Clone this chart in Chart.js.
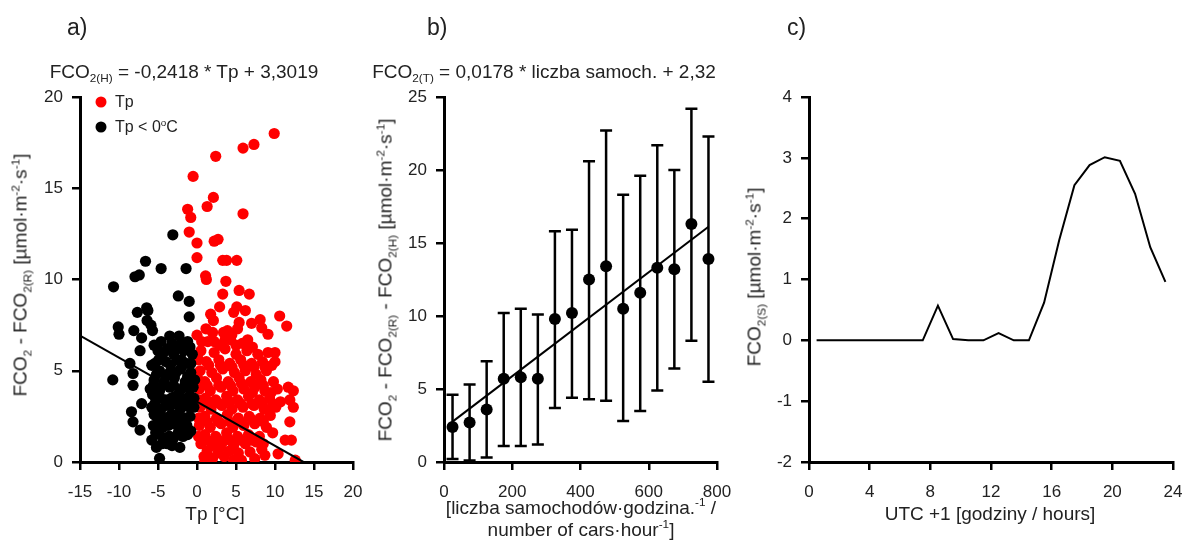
<!DOCTYPE html>
<html>
<head>
<meta charset="utf-8">
<script src="https://cdn.jsdelivr.net/npm/chart.js@4/dist/chart.umd.min.js"></script>
<style>
  body { margin: 0; background: #fff; font-family: "Liberation Sans", Arial, sans-serif; color: #222; }
  #wrap { position: relative; width: 1184px; height: 543px; overflow: hidden; }
  canvas { position: absolute; top: 0; }
  .lbl { position: absolute; white-space: nowrap; font-size: 19px; line-height: 1; }
  .ctr { transform: translate(-50%, -50%); }
  .panel { font-size: 23px; }
  .ytitle { position: absolute; white-space: nowrap; font-size: 19px; line-height: 1; transform: translate(-50%, -50%) rotate(-90deg); }
  sub, sup { font-size: 62%; line-height: 0; }
  .dot { position: absolute; width: 11px; height: 11px; border-radius: 50%; transform: translate(-50%, -50%); }
</style>
</head>
<body>
<div id="wrap">
  <canvas id="chartA" width="380" height="543" style="left:0"></canvas>
  <canvas id="chartB" width="376" height="543" style="left:372px"></canvas>
  <canvas id="chartC" width="450" height="543" style="left:748px"></canvas>

  <div class="lbl panel" style="left:67px;top:16px">a)</div>
  <div class="lbl panel" style="left:427px;top:16px">b)</div>
  <div class="lbl panel" style="left:787px;top:16px">c)</div>

  <div class="lbl ctr" style="left:184px;top:71px">FCO<sub>2(H)</sub> = -0,2418 * Tp + 3,3019</div>
  <div class="lbl ctr" style="left:544px;top:71px">FCO<sub>2(T)</sub> = 0,0178 * liczba samoch. + 2,32</div>

  <div class="dot" style="left:101px;top:102px;background:#f00"></div>
  <div class="lbl" style="left:115px;top:94px;font-size:16px">Tp</div>
  <div class="dot" style="left:101px;top:127px;background:#000"></div>
  <div class="lbl" style="left:115px;top:119px;font-size:16px">Tp &lt; 0<sup>o</sup>C</div>

  <div class="ytitle" style="left:20px;top:275px">FCO<sub>2</sub> - FCO<sub>2(R)</sub> [µmol·m<sup>-2</sup>·s<sup>-1</sup>]</div>
  <div class="ytitle" style="left:385px;top:280px">FCO<sub>2</sub> - FCO<sub>2(R)</sub> - FCO<sub>2(H)</sub> [µmol·m<sup>-2</sup>·s<sup>-1</sup>]</div>
  <div class="ytitle" style="left:754px;top:277px">FCO<sub>2(S)</sub> [µmol·m<sup>-2</sup>·s<sup>-1</sup>]</div>

  <div class="lbl ctr" style="left:215px;top:513px">Tp [°C]</div>
  <div class="lbl ctr" style="left:581px;top:507px">[liczba samochodów·godzina.<sup>-1</sup> /</div>
  <div class="lbl ctr" style="left:581px;top:529px">number of cars·hour<sup>-1</sup>]</div>
  <div class="lbl ctr" style="left:990px;top:513px">UTC +1 [godziny / hours]</div>
</div>

<script>
// --- a) Tp vs flux, [Tp, flux]
const tpPoints = [
  [9.9,18.0],[7.3,17.4],[5.9,17.2],[2.4,16.75],[-0.5,15.65],[2.1,14.5],[1.3,14.0],[-1.2,13.85],
  [-0.8,13.4],[5.9,13.6],[-1.0,12.6],[0.0,12.0],[2.2,12.1],[2.7,12.2],[0.0,11.2],[3.3,11.05],
  [3.8,11.05],[5.1,11.05],[1.1,10.2],[1.2,10.0],[3.7,9.9],[5.4,9.4],[6.7,9.2],[3.3,9.2],
  [2.9,8.5],[5.1,8.5],[4.7,8.2],[6.2,8.3],[1.75,8.1],[2.1,7.75],[5.4,7.65],[7.0,7.6],
  [8.1,7.8],[8.3,7.35],[10.6,8.0],[11.5,7.45],[9.1,7.0],[1.15,7.3],[0.0,6.95],[0.6,6.6],
  [3.4,7.1],[4.45,6.95],[10.0,6.0],[10.0,5.5],[2.0,7.1],[3.9,7.2],[5.2,7.3],
  [11.7,4.1],[12.35,3.9],[11.9,3.4],[12.35,3.0],[9.6,3.0],[9.4,2.55],[11.9,2.2],[11.3,1.2],
  [12.1,1.2],[10.4,0.45],[12.6,0.1],[8.7,0.37],[7.4,0.18],[5.7,0.1],[4.7,0.1],[1.0,0.05],
  [1.4,6.6],[2.9,6.4],[4.3,6.7],[5.8,6.5],[7.1,6.3],
  [0.5,6.1],[2.2,6.0],[3.6,6.2],[5.0,5.9],[6.4,6.1],[7.8,5.9],[9.1,6.0],
  [1.2,5.5],[2.8,5.6],[4.2,5.4],[5.6,5.6],[7.0,5.4],[8.4,5.5],[9.6,5.3],
  [0.4,5.0],[1.9,4.9],[3.3,5.1],[4.8,4.9],[6.2,5.0],[7.6,4.8],[8.9,5.0],
  [1.0,4.4],[2.5,4.6],[4.0,4.4],[5.4,4.6],[6.9,4.4],[8.2,4.5],[9.8,4.4],
  [0.3,4.0],[1.7,3.9],[3.1,4.1],[4.6,3.9],[6.0,4.0],[7.4,4.1],[8.7,3.9],[10.3,4.0],
  [1.1,3.5],[2.4,3.4],[3.8,3.6],[5.2,3.4],[6.6,3.6],[8.0,3.4],[9.3,3.5],[10.7,3.3],
  [0.4,3.0],[1.8,2.9],[3.2,3.1],[4.5,2.9],[5.9,3.0],[7.3,3.1],[8.6,2.9],[10.1,3.0],
  [1.0,2.5],[2.5,2.4],[3.9,2.6],[5.3,2.4],[6.7,2.5],[8.1,2.4],
  [0.3,2.0],[1.7,1.9],[3.1,2.1],[4.6,1.9],[6.0,2.0],[7.4,2.1],[8.9,1.9],
  [1.0,1.5],[2.4,1.4],[3.8,1.6],[5.2,1.4],[6.6,1.5],[8.0,1.4],[9.7,1.6],
  [0.5,1.0],[1.9,0.9],[3.3,1.1],[4.7,0.9],[6.2,1.0],[7.6,1.1],
  [1.3,0.6],[2.7,0.5],[4.1,0.6],[6.8,0.55],[8.3,0.7],
  [0.2,5.6],[0.2,4.5],[0.2,3.4],[0.2,2.4],[0.2,1.4],[0.9,0.3],[2.0,0.2],[3.5,0.3],
  [2.2,6.6],[3.6,6.7],[5.0,6.4],[6.5,6.7],
  [1.5,5.3],[3.0,5.3],[4.5,5.2],[6.0,5.3],[7.3,5.2],[8.7,5.2],
  [1.3,4.2],[2.8,4.2],[4.3,4.2],[5.7,4.3],[7.1,3.8],[8.5,4.2],[9.5,3.8],
  [1.4,3.2],[2.9,3.2],[4.2,3.3],[5.6,3.2],[7.0,3.2],[8.3,3.2],[9.7,3.2],
  [1.3,2.2],[2.8,2.2],[4.2,2.2],[5.6,2.2],[7.1,2.3],[8.5,2.2],
  [1.3,1.2],[2.8,1.2],[4.2,1.2],[5.6,1.2],[7.0,1.2],[8.5,1.0],
  [5.3,0.5],[3.0,0.8]
];
const tpBelowZero = [
  [-3.1,12.45],[-6.6,11.0],[-4.6,10.6],[-1.4,10.6],[-7.95,10.15],[-7.4,10.25],[-10.7,9.6],[-2.4,9.1],
  [-1.0,8.8],[-1.0,7.95],[-6.45,8.45],[-6.3,8.3],[-7.65,8.2],[-10.1,7.4],[-10.0,7.0],[-6.4,7.75],
  [-5.9,7.5],[-8.1,7.2],[-5.7,7.2],[-7.1,6.8],[-5.5,6.4],[-7.3,6.1],[-10.8,4.5],[-8.6,5.4],
  [-8.2,4.85],[-8.2,4.2],[-5.8,5.3],[-7.1,3.2],[-8.4,2.75],[-8.2,2.2],[-7.3,1.75],[-5.8,1.2],
  [-5.2,0.8],[-4.8,0.2],[-3.5,1.4],[-2.2,0.8],[-2.3,6.9],
  [-3.2,6.5],[-2.2,6.4],[-1.2,6.6],
  [-4.3,6.0],[-3.0,5.9],[-1.7,6.1],[-0.6,5.9],
  [-5.4,5.4],[-4.0,5.5],[-2.6,5.6],[-1.4,5.4],
  [-4.8,5.0],[-3.5,4.9],[-2.1,5.1],[-0.8,4.9],
  [-5.5,4.5],[-4.2,4.4],[-2.9,4.6],[-1.5,4.4],[-0.3,4.5],
  [-6.0,4.0],[-4.8,3.9],[-3.5,4.1],[-2.2,3.9],[-0.9,4.0],
  [-5.3,3.5],[-4.1,3.4],[-2.8,3.6],[-1.5,3.4],[-0.4,3.5],
  [-5.8,3.0],[-4.6,2.9],[-3.4,3.1],[-2.1,2.9],[-0.9,3.0],
  [-5.2,2.5],[-4.0,2.4],[-2.7,2.6],[-1.4,2.4],
  [-5.6,2.0],[-4.4,1.9],[-3.1,2.1],[-1.9,1.9],
  [-4.8,1.5],[-3.6,1.4],[-2.4,1.6],[-1.2,1.5],
  [-3.8,1.0],
  [-3.8,6.2],[-2.7,6.2],[-1.6,6.4],[-0.9,6.3],
  [-4.9,5.6],[-3.4,5.3],[-2.0,5.6],[-0.8,5.4],
  [-5.2,4.8],[-4.0,4.7],[-2.7,4.9],[-1.2,4.7],
  [-5.6,4.2],[-4.4,4.2],[-3.0,4.2],[-1.7,4.1],[-0.5,4.1],
  [-5.7,3.7],[-4.7,3.5],[-3.3,3.5],[-2.1,3.5],[-1.0,3.6],
  [-5.4,3.2],[-4.0,3.1],[-2.7,3.2],[-1.4,3.1],[-0.4,3.0],
  [-5.5,2.6],[-4.5,2.5],[-3.3,2.6],[-2.0,2.4],[-0.9,2.5],
  [-5.0,2.1],[-3.7,2.0],[-2.5,2.0],[-1.3,2.0],[-0.8,1.7],
  [-5.3,1.6],[-4.2,1.3],[-3.0,1.3],[-1.8,1.4],
  [-4.5,1.0],[-3.2,0.9],[-5.0,6.1],[-4.6,6.6],[-3.5,6.9]
];
const fitA = { slope: -0.2418, intercept: 3.3019, from: -15, to: 13.65 };

// --- b) traffic vs flux
const carCounts = [25, 75, 125, 175, 225, 275, 325, 375, 425, 475, 525, 575, 625, 675, 725, 775];
const trafficFlux = [2.4, 2.7, 3.6, 5.7, 5.8, 5.7, 9.8, 10.2, 12.5, 13.4, 10.5, 11.6, 13.3, 13.2, 16.3, 13.9];
const errHigh = [4.6, 5.3, 6.9, 10.2, 10.5, 10.1, 15.8, 15.9, 20.6, 22.7, 18.3, 19.6, 21.7, 20.0, 24.2, 22.3];
const errLow = [0.2, 0.1, 0.3, 1.1, 1.1, 1.2, 3.7, 4.4, 4.3, 4.2, 2.8, 3.5, 4.9, 6.4, 8.3, 5.5];
const fitB = { slope: 0.0178, intercept: 2.32, from: 25, to: 775 };

// --- c) daily course
const hours = [0.5, 1.5, 2.5, 3.5, 4.5, 5.5, 6.5, 7.5, 8.5, 9.5, 10.5, 11.5, 12.5, 13.5, 14.5, 15.5, 16.5, 17.5, 18.5, 19.5, 20.5, 21.5, 22.5, 23.5];
const hourlyFlux = [0, 0, 0, 0, 0, 0, 0, 0, 0.57, 0.02, 0, 0, 0.12, 0, 0, 0.62, 1.65, 2.55, 2.88, 3.01, 2.95, 2.41, 1.53, 0.96];

const FONT = '"Liberation Sans", Arial, sans-serif';

function axis(min, max, step, size) {
  return {
    type: 'linear', min, max,
    afterFit: s => { if (s.isHorizontal()) s.height = size; else s.width = size; },
    ticks: { stepSize: step, color: '#222', font: { size: 17, family: FONT }, padding: 9 },
    grid: { drawOnChartArea: false, color: '#000', lineWidth: 2.5, tickLength: 8 },
    border: { color: '#000', width: 3 }
  };
}

function xAxis(min, max, step) {
  const a = axis(min, max, step, 81);
  a.ticks.padding = 12;
  return a;
}

function baseOptions(padRight, xScale, yScale) {
  return {
    responsive: false,
    animation: false,
    devicePixelRatio: 1,
    layout: { padding: { top: 97, right: padRight, left: 0, bottom: 0 } },
    plugins: { legend: { display: false }, tooltip: { enabled: false } },
    scales: { x: xScale, y: yScale }
  };
}

function fitLine(f) {
  return [f.from, f.to].map(x => ({ x, y: f.slope * x + f.intercept }));
}

const toXY = arr => arr.map(p => ({ x: p[0], y: p[1] }));

new Chart(document.getElementById('chartA'), {
  type: 'scatter',
  data: {
    datasets: [
      { type: 'line', data: fitLine(fitA), borderColor: '#000', borderWidth: 2, pointRadius: 0, order: 0 },
      { label: 'Tp < 0ºC', data: toXY(tpBelowZero), backgroundColor: '#000', pointRadius: 5.6, borderWidth: 0, order: 1 },
      { label: 'Tp', data: toXY(tpPoints), backgroundColor: '#ff0000', pointRadius: 5.6, borderWidth: 0, order: 2 }
    ]
  },
  options: baseOptions(27, xAxis(-15, 20, 5), axis(0, 20, 5, 80))
});

const errorBars = {
  id: 'errorBars',
  beforeDatasetsDraw(chart) {
    const { ctx, scales: { x, y } } = chart;
    ctx.save();
    ctx.strokeStyle = '#000';
    ctx.lineWidth = 2.5;
    carCounts.forEach((c, i) => {
      const px = x.getPixelForValue(c);
      const top = y.getPixelForValue(errHigh[i]);
      const bot = y.getPixelForValue(errLow[i]);
      ctx.beginPath();
      ctx.moveTo(px, bot); ctx.lineTo(px, top);
      ctx.moveTo(px - 6, top); ctx.lineTo(px + 6, top);
      ctx.moveTo(px - 6, bot); ctx.lineTo(px + 6, bot);
      ctx.stroke();
    });
    ctx.restore();
  }
};

new Chart(document.getElementById('chartB'), {
  type: 'scatter',
  data: {
    datasets: [
      { type: 'line', data: fitLine(fitB), borderColor: '#000', borderWidth: 2, pointRadius: 0, order: 0 },
      { data: carCounts.map((c, i) => ({ x: c, y: trafficFlux[i] })), backgroundColor: '#000', pointRadius: 6, borderWidth: 0, order: 1 }
    ]
  },
  options: baseOptions(31, xAxis(0, 800, 200), axis(0, 25, 5, 72)),
  plugins: [errorBars]
});

new Chart(document.getElementById('chartC'), {
  type: 'line',
  data: {
    datasets: [
      { data: hours.map((h, i) => ({ x: h, y: hourlyFlux[i] })), borderColor: '#000', borderWidth: 2, pointRadius: 0, tension: 0 }
    ]
  },
  options: baseOptions(25, xAxis(0, 24, 4), axis(-2, 4, 1, 61))
});
</script>
</body>
</html>
